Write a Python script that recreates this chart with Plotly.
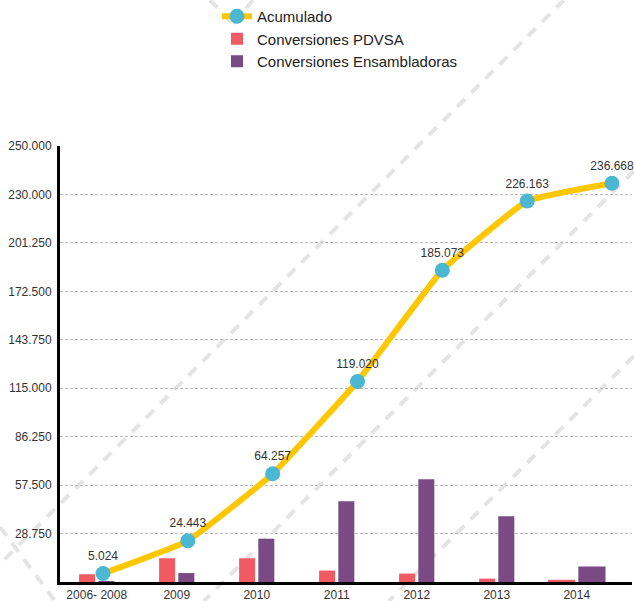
import plotly.graph_objects as go

# ---- data ----
categories = ["2006- 2008", "2009", "2010", "2011", "2012", "2013", "2014"]
acumulado = [5024, 24443, 64257, 119020, 185073, 226163, 236668]
pdvsa = [4600, 14100, 14100, 6800, 5000, 2000, 1300]
ensambladoras = [400, 5300, 25700, 48000, 61050, 39100, 9200]
y_tickvals = [0, 28750, 57500, 86250, 115000, 143750, 172500, 201250, 230000, 258750]
y_ticktext = ["", "28.750", "57.500", "86.250", "115.000", "143.750",
              "172.500", "201.250", "230.000", "250.000"]


def fmt(v):
    return f"{v:,}".replace(",", ".")


# ---- styling ----
W, H = 634, 601
ML, MR, MT, MB = 60, 2, 146, 19
YELLOW = "#FFC700"
CYAN = "#4BB7D1"
RED = "#F05A62"
PURPLE = "#7A4A82"
TXT = "#333333"
SANS = "Liberation Sans, Arial, sans-serif"

n = len(categories)
bar_w = [0.2] * (n - 1) + [0.34]
off_p = [-0.22] * (n - 1) + [-0.36]
off_e = [0.02] * n

fig = go.Figure()

fig.add_trace(go.Scatter(
    x=categories, y=acumulado, name="Acumulado", xaxis="x2", yaxis="y",
    mode="lines+markers+text",
    line=dict(color=YELLOW, width=6, shape="spline", smoothing=0.3),
    marker=dict(color=CYAN, size=15),
    text=[fmt(v) for v in acumulado], textposition="top center",
    textfont=dict(family=SANS, size=12, color=TXT),
    cliponaxis=False,
))
fig.add_trace(go.Bar(
    x=categories, y=pdvsa, name="Conversiones PDVSA",
    marker=dict(color=RED, line=dict(width=0)),
    width=bar_w, offset=off_p,
))
fig.add_trace(go.Bar(
    x=categories, y=ensambladoras, name="Conversiones Ensambladoras",
    marker=dict(color=PURPLE, line=dict(width=0)),
    width=bar_w, offset=off_e,
))

# decorative dashed diagonals (pixel -> paper)
pw, ph = W - ML - MR, H - MT - MB


def P(x, y):
    return (x - ML) / pw, (H - MB - y) / ph


deco = [
    ((564, 0), (0, 564)),
    ((634, 171), (204, 601)),
    ((634, 356), (389, 601)),
    ((210, 0), (235, 26)),
    ((253, 0), (233, 24)),
    ((0, 527), (55, 601)),
]
shapes = []
for (a, b) in deco:
    x0, y0 = P(*a)
    x1, y1 = P(*b)
    shapes.append(dict(type="line", xref="paper", yref="paper",
                       x0=x0, y0=y0, x1=x1, y1=y1, layer="below",
                       line=dict(color="#E4E4E4", width=4, dash="11px,9px")))

fig.update_layout(
    width=W, height=H,
    margin=dict(l=ML, r=MR, t=MT, b=MB, autoexpand=False),
    paper_bgcolor="white", plot_bgcolor="rgba(0,0,0,0)",
    barmode="overlay",
    shapes=shapes,
    showlegend=True,
    legend=dict(
        xref="container", yref="container",
        x=217 / W, y=1.0, xanchor="left", yanchor="top",
        orientation="v", traceorder="normal",
        font=dict(family=SANS, size=15, color="#222222"),
        bgcolor="rgba(0,0,0,0)", itemwidth=30, tracegroupgap=0,
    ),
    xaxis=dict(
        type="category", categoryorder="array", categoryarray=categories,
        range=[-0.459, 6.691],
        showline=True, linecolor="black", linewidth=3,
        showgrid=False, zeroline=False, ticks="",
        tickfont=dict(family=SANS, size=12, color=TXT),
    ),
    xaxis2=dict(
        type="category", categoryorder="array", categoryarray=categories,
        overlaying="x", range=[-0.507, 6.236], visible=False,
    ),
    yaxis=dict(
        range=[0, 258800],
        tickvals=y_tickvals, ticktext=y_ticktext,
        showline=True, linecolor="black", linewidth=3,
        showgrid=True, gridcolor="#BBBBBB", gridwidth=1, griddash="3px,2px",
        zeroline=False, ticks="",
        ticklabelstandoff=3,
        tickfont=dict(family=SANS, size=12, color=TXT),
    ),
)

fig.write_html(
    "out.html",
    config={"displayModeBar": False},
    post_script="document.body.style.margin='0';document.body.style.overflow='hidden';",
)
